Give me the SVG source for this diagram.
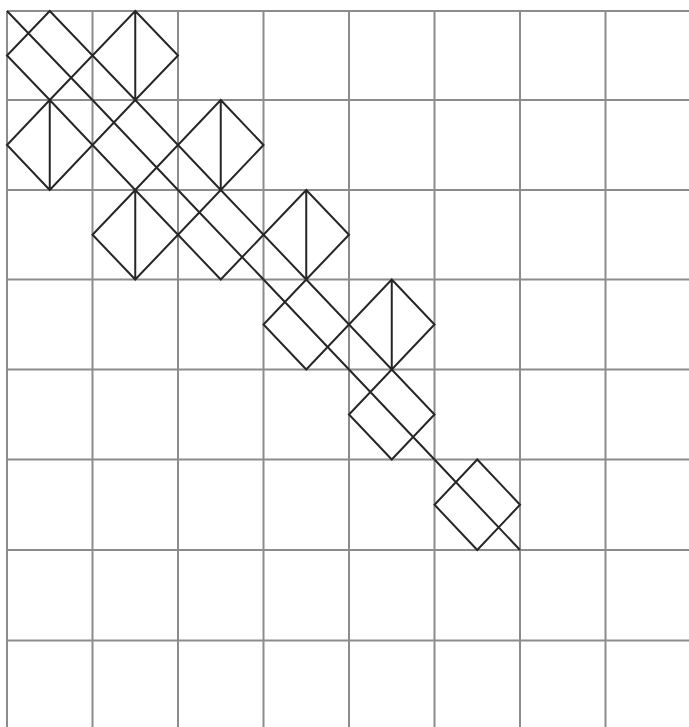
<svg xmlns="http://www.w3.org/2000/svg" width="689" height="727" viewBox="0 0 689 727">
<style>
.grid{stroke:#8c8c8c;stroke-width:2;fill:none}
.d{stroke:#262626;stroke-width:2;fill:none;stroke-linejoin:miter}
</style>
<rect width="689" height="727" fill="#ffffff"/>
<g id="grid" class="grid">
<path d="M7,11V727M92.5,11V727M178,11V727M263.5,11V727M349,11V727M434.5,11V727M520,11V727M605.5,11V727"/>
<path d="M7,11H689M7,100H689M7,190H689M7,279.5H689M7,369.5H689M7,459.5H689M7,550H689M7,640.5H689"/>
</g>
<g id="connectors"></g>
<g id="n-r0c0" class="d"><path d="M49.75,11L92.5,55.5L49.75,100L7,55.5Z M7,11L92.5,100"/></g>
<g id="n-r0c1" class="d"><path d="M135.25,11L178,55.5L135.25,100L92.5,55.5Z M135.25,11V100"/></g>
<g id="n-r1c0" class="d"><path d="M49.75,100L92.5,145L49.75,190L7,145Z M49.75,100V190"/></g>
<g id="n-r1c1" class="d"><path d="M135.25,100L178,145L135.25,190L92.5,145Z M92.5,100L178,190"/></g>
<g id="n-r1c2" class="d"><path d="M220.75,100L263.5,145L220.75,190L178,145Z M220.75,100V190"/></g>
<g id="n-r2c1" class="d"><path d="M135.25,190L178,234.75L135.25,279.5L92.5,234.75Z M135.25,190V279.5"/></g>
<g id="n-r2c2" class="d"><path d="M220.75,190L263.5,234.75L220.75,279.5L178,234.75Z M178,190L263.5,279.5"/></g>
<g id="n-r2c3" class="d"><path d="M306.25,190L349,234.75L306.25,279.5L263.5,234.75Z M306.25,190V279.5"/></g>
<g id="n-r3c3" class="d"><path d="M306.25,279.5L349,324.5L306.25,369.5L263.5,324.5Z M263.5,279.5L349,369.5"/></g>
<g id="n-r3c4" class="d"><path d="M391.75,279.5L434.5,324.5L391.75,369.5L349,324.5Z M391.75,279.5V369.5"/></g>
<g id="n-r4c4" class="d"><path d="M391.75,369.5L434.5,414.5L391.75,459.5L349,414.5Z M349,369.5L434.5,459.5"/></g>
<g id="n-r5c5" class="d"><path d="M477.25,459.5L520,504.75L477.25,550L434.5,504.75Z M434.5,459.5L520,550"/></g>
</svg>
